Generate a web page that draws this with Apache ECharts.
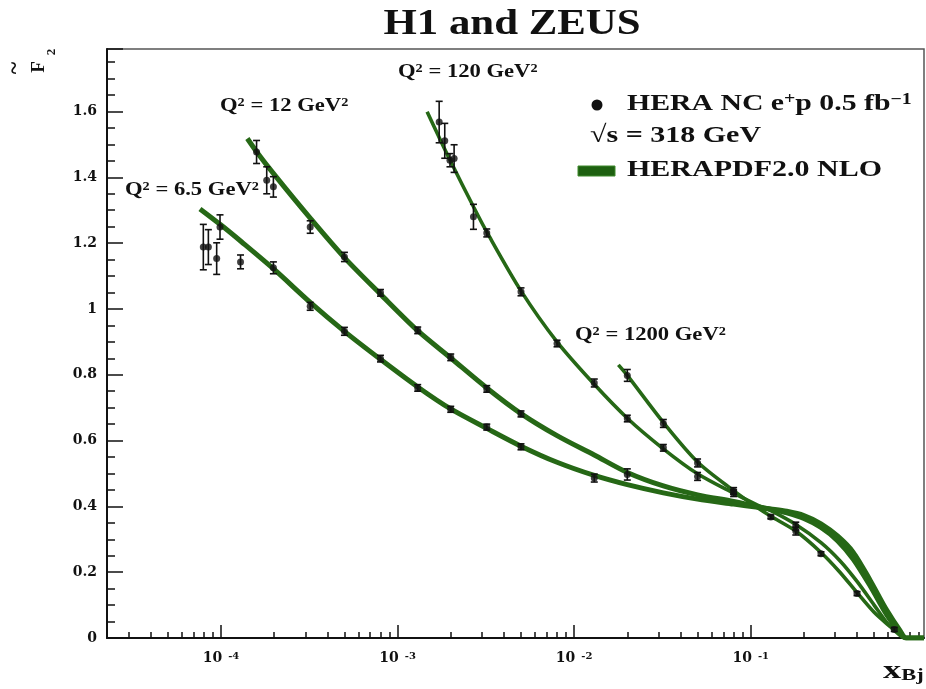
<!DOCTYPE html>
<html><head><meta charset="utf-8">
<script src="https://cdn.jsdelivr.net/npm/echarts@6/dist/echarts.min.js"></script>
<style>html,body{margin:0;padding:0;background:#fff}#c{width:926px;height:689px}</style>
</head><body><div id="c"></div>
<script>
// ---------- data: measured points ----------
const xPts65   = [7.94e-5, 8.48e-5, 9.45e-5, 9.87e-5, 1.29e-4, 1.98e-4, 3.2e-4, 5.0e-4, 8.0e-4, 1.3e-3, 2.0e-3, 3.2e-3, 5.0e-3, 0.013];
const f2Pts65  = [1.188, 1.188, 1.153, 1.249, 1.143, 1.125, 1.008, 0.932, 0.849, 0.760, 0.695, 0.641, 0.581, 0.486];
const errPts65 = [0.069, 0.053, 0.048, 0.037, 0.021, 0.018, 0.012, 0.012, 0.010, 0.010, 0.009, 0.009, 0.009, 0.012];

const xPts12   = [1.59e-4, 1.815e-4, 1.98e-4, 3.2e-4, 5.0e-4, 8.0e-4, 1.3e-3, 2.0e-3, 3.2e-3, 5.0e-3, 0.02];
const f2Pts12  = [1.477, 1.391, 1.371, 1.249, 1.158, 1.049, 0.935, 0.853, 0.757, 0.681, 0.497];
const errPts12 = [0.035, 0.041, 0.031, 0.019, 0.014, 0.010, 0.010, 0.010, 0.010, 0.009, 0.017];

const xPts120   = [1.72e-3, 1.85e-3, 1.98e-3, 2.09e-3, 2.69e-3, 3.2e-3, 5.0e-3, 8.0e-3, 0.013, 0.02, 0.032, 0.05, 0.08, 0.18];
const f2Pts120  = [1.568, 1.511, 1.452, 1.457, 1.280, 1.231, 1.052, 0.895, 0.775, 0.667, 0.578, 0.491, 0.440, 0.340];
const errPts120 = [0.063, 0.053, 0.020, 0.042, 0.038, 0.012, 0.012, 0.010, 0.012, 0.010, 0.010, 0.012, 0.010, 0.012];

const xPts1200   = [0.02, 0.032, 0.05, 0.08, 0.13, 0.18, 0.25, 0.40, 0.65];
const f2Pts1200  = [0.798, 0.652, 0.532, 0.447, 0.368, 0.325, 0.256, 0.135, 0.026];
const errPts1200 = [0.018, 0.012, 0.012, 0.010, 0.006, 0.012, 0.006, 0.006, 0.006];

// ---------- data: HERAPDF2.0 NLO curves ----------
const xCurve65  = [7.6e-5, 1e-4, 1.3e-4, 2e-4, 3.2e-4, 5e-4, 8e-4, 1.3e-3, 2e-3, 3.2e-3, 5e-3, 8e-3, 0.013, 0.02, 0.032, 0.05, 0.08, 0.11, 0.13, 0.16, 0.2, 0.25, 0.31, 0.38, 0.475, 0.59, 0.7, 0.76, 0.958];
const f2Curve65 = [1.304, 1.255, 1.205, 1.120, 1.020, 0.932, 0.847, 0.763, 0.696, 0.637, 0.583, 0.534, 0.494, 0.466, 0.441, 0.422, 0.407, 0.397, 0.392, 0.385, 0.372, 0.347, 0.310, 0.261, 0.175, 0.084, 0.023, 0.0, 0.0];

const xCurve12  = [1.41e-4, 1.59e-4, 2e-4, 3.2e-4, 5e-4, 8e-4, 1.3e-3, 2e-3, 3.2e-3, 5e-3, 8e-3, 0.013, 0.02, 0.032, 0.05, 0.08, 0.11, 0.13, 0.16, 0.2, 0.25, 0.31, 0.38, 0.475, 0.59, 0.7, 0.76, 0.958];
const f2Curve12 = [1.518, 1.478, 1.409, 1.276, 1.156, 1.045, 0.934, 0.851, 0.760, 0.682, 0.615, 0.556, 0.503, 0.462, 0.435, 0.415, 0.399, 0.391, 0.380, 0.363, 0.336, 0.296, 0.240, 0.158, 0.070, 0.015, 0.0, 0.0];

const xCurve120  = [1.47e-3, 1.7e-3, 2e-3, 2.7e-3, 3.2e-3, 5e-3, 8e-3, 0.013, 0.02, 0.032, 0.05, 0.08, 0.11, 0.13, 0.18, 0.25, 0.32, 0.4, 0.5, 0.6, 0.7, 0.76, 0.958];
const f2Curve120 = [1.599, 1.527, 1.448, 1.309, 1.234, 1.055, 0.900, 0.771, 0.668, 0.575, 0.499, 0.440, 0.403, 0.387, 0.345, 0.290, 0.235, 0.172, 0.100, 0.042, 0.008, 0.0, 0.0];

const xCurve1200  = [0.0178, 0.02, 0.032, 0.05, 0.08, 0.11, 0.13, 0.18, 0.25, 0.32, 0.4, 0.5, 0.6, 0.65, 0.7, 0.74, 0.958];
const f2Curve1200 = [0.830, 0.798, 0.655, 0.535, 0.448, 0.395, 0.370, 0.325, 0.260, 0.200, 0.138, 0.078, 0.040, 0.026, 0.012, 0.0, 0.0];

// ---------- axes ----------
const xMin = 2.261e-5, xMax = 0.958;
const yMin = 0, yMax = 1.79, yStep = 0.2;
const xMajorTicks = [1e-4, 1e-3, 1e-2, 1e-1];
const xMinorTicks = [];
[-5, -4, -3, -2, -1].forEach(function (e) {
  for (let m = 2; m <= 9; m++) {
    const v = m * Math.pow(10, e);
    if (v > xMin && v < xMax) xMinorTicks.push(v);
  }
});

const DJ = "'DejaVu Serif', serif";
const LS = "'Liberation Serif', 'DejaVu Serif', serif";
const GREEN = '#266816';
const chart = echarts.init(document.getElementById('c'), null, { renderer: 'canvas' });

function pair(xs, ys) { return xs.map(function (x, i) { return [x, ys[i]]; }); }
function triple(xs, ys, es) { return xs.map(function (x, i) { return [x, ys[i], es[i]]; }); }

function renderErr(params, api) {
  const x = api.value(0), y = api.value(1), e = api.value(2);
  const t = api.coord([x, y + e]);
  const b = api.coord([x, y - e]);
  const hw = 3.5;
  const st = { stroke: '#111', lineWidth: 1.6 };
  return {
    type: 'group',
    children: [
      { type: 'line', shape: { x1: t[0], y1: t[1], x2: b[0], y2: b[1] }, style: st },
      { type: 'line', shape: { x1: t[0] - hw, y1: t[1], x2: t[0] + hw, y2: t[1] }, style: st },
      { type: 'line', shape: { x1: b[0] - hw, y1: b[1], x2: b[0] + hw, y2: b[1] }, style: st }
    ]
  };
}

const curveSets = [
  [xCurve65, f2Curve65, 5], [xCurve12, f2Curve12, 5],
  [xCurve120, f2Curve120, 3.6], [xCurve1200, f2Curve1200, 3.6]
];
const pointSets = [
  [xPts65, f2Pts65, errPts65], [xPts12, f2Pts12, errPts12],
  [xPts120, f2Pts120, errPts120], [xPts1200, f2Pts1200, errPts1200]
];

const series = [];
curveSets.forEach(function (c) {
  series.push({
    name: 'HERAPDF2.0 NLO', type: 'line', xAxisIndex: 0, yAxisIndex: 0,
    data: pair(c[0], c[1]), showSymbol: false, symbol: 'none', smooth: 0.3,
    lineStyle: { color: GREEN, width: c[2] }, itemStyle: { color: GREEN },
    z: 2, silent: true, clip: true
  });
});
pointSets.forEach(function (p) {
  series.push({
    name: 'errbar', type: 'custom', xAxisIndex: 0, yAxisIndex: 0,
    data: triple(p[0], p[1], p[2]), renderItem: renderErr,
    encode: { x: 0, y: 1 }, z: 3, silent: true
  });
  series.push({
    name: 'HERA NC', type: 'scatter', xAxisIndex: 0, yAxisIndex: 0,
    data: pair(p[0], p[1]), symbol: 'circle', symbolSize: 7,
    itemStyle: { color: '#111' }, z: 4, silent: true
  });
});

// text helpers (Times-like bold, slightly widened like the original)
function tok(size, extra) {
  return Object.assign({ fontFamily: LS, fontWeight: 'bold', fontSize: size, fill: '#111' }, extra || {});
}
function label(x, y, text, rich, sx, align) {
  return {
    type: 'text', x: x, y: y, scaleX: sx, z: 10, silent: true,
    style: { text: text, rich: rich, align: align || 'left', verticalAlign: 'middle' }
  };
}
const qRich = { a: tok(19), s: tok(12, { verticalAlign: 'top' }) };
function qLabel(val, x, y) {
  return label(x, y, '{a|Q}{s|2}{a| = ' + val + ' GeV}{s|2}', qRich, 1.19);
}
const legRich = { a: tok(24), s: tok(16, { verticalAlign: 'top' }) };

const graphics = [
  label(512, 25, '{t|H1 and ZEUS}', { t: tok(36) }, 1.19, 'center'),
  qLabel('6.5', 125, 190),
  qLabel('12', 220, 106),
  qLabel('120', 398, 72),
  qLabel('1200', 575, 335),
  { type: 'circle', shape: { cx: 597, cy: 105, r: 5.5 }, style: { fill: '#111' }, z: 10, silent: true },
  label(627, 104, '{a|HERA NC e}{s|+}{a|p 0.5 fb}{s|\u22121}', legRich, 1.24),
  label(590, 136, '{a|\u221As = 318 GeV}', legRich, 1.25),
  { type: 'rect', shape: { x: 578, y: 166, width: 37, height: 10 }, style: { fill: '#1e6010', stroke: '#3f8a2c', lineWidth: 1 }, z: 10, silent: true },
  label(627, 170, '{a|HERAPDF2.0 NLO}', legRich, 1.25),
  // x-axis title
  label(883, 671, '{x|x}{b|Bj}', { x: tok(26), b: tok(16, { verticalAlign: 'bottom' }) }, 1.4),
  // y-axis title  F~_2 (rotated)
  { type: 'text', x: 15, y: 68, rotation: Math.PI / 2, z: 10, silent: true, style: { text: '~', font: "bold 24px 'Liberation Serif'", fill: '#111', align: 'center', verticalAlign: 'middle' } },
  { type: 'text', x: 39, y: 67, rotation: Math.PI / 2, z: 10, silent: true, style: { text: 'F', font: "bold 19px 'Liberation Serif'", fill: '#111', align: 'center', verticalAlign: 'middle' } },
  { type: 'text', x: 52, y: 52, rotation: Math.PI / 2, z: 10, silent: true, style: { text: '2', font: "bold 13px 'Liberation Serif'", fill: '#111', align: 'center', verticalAlign: 'middle' } }
];

const option = {
  backgroundColor: '#fff',
  animation: false,
  grid: { left: 107, right: 2, top: 49, bottom: 51, show: true, borderColor: '#555', borderWidth: 1.5, backgroundColor: 'transparent' },
  xAxis: [
    {
      type: 'log', logBase: 10, min: xMin, max: xMax, gridIndex: 0, position: 'bottom',
      axisLine: { show: true, lineStyle: { color: '#111', width: 2 } },
      axisTick: { show: true, inside: true, length: 13, customValues: xMajorTicks, lineStyle: { color: '#111', width: 1.5 } },
      axisLabel: {
        show: true, margin: 13, customValues: xMajorTicks,
        formatter: function (v) { return '{b|10}{s|' + Math.round(Math.log10(v)) + '}'; },
        rich: {
          b: { fontFamily: DJ, fontWeight: 'bold', fontSize: 14, color: '#111' },
          s: { fontFamily: DJ, fontWeight: 'bold', fontSize: 10, color: '#111', verticalAlign: 'top', padding: [0, 0, 0, 6] }
        }
      },
      splitLine: { show: false }
    },
    {
      type: 'log', logBase: 10, min: xMin, max: xMax, gridIndex: 0, position: 'bottom',
      axisLine: { show: false },
      axisTick: { show: true, inside: true, length: 6, customValues: xMinorTicks, lineStyle: { color: '#111', width: 1.5 } },
      axisLabel: { show: false },
      splitLine: { show: false }
    }
  ],
  yAxis: [{
    type: 'value', min: yMin, max: yMax, interval: yStep,
    axisLine: { show: true, lineStyle: { color: '#111', width: 2 } },
    axisTick: { show: true, inside: true, length: 16, lineStyle: { color: '#111', width: 1.5 } },
    minorTick: { show: true, splitNumber: 4, length: 8, lineStyle: { color: '#111', width: 1.5 } },
    axisLabel: { margin: 10, showMaxLabel: false, fontFamily: DJ, fontWeight: 'bold', fontSize: 14, color: '#111' },
    splitLine: { show: false }
  }],
  graphic: graphics,
  series: series
};
chart.setOption(option);
</script>
</body></html>
